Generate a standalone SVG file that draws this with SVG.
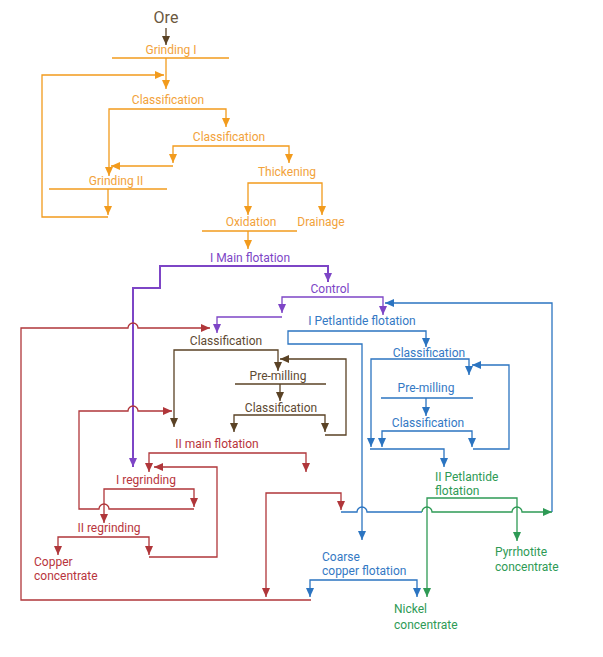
<svg xmlns="http://www.w3.org/2000/svg" width="603" height="657" viewBox="0 0 603 657">
<defs>
<style>
text{font-family:Roboto,"Open Sans","Liberation Sans",sans-serif;font-size:12px;text-anchor:middle}
.s{text-anchor:start}
.ln{fill:none;stroke-width:1.3}
.o{stroke:#F29B1D}.ot{fill:#F2A23A}
.b{stroke:#5A4225}.bt{fill:#5E4A32}
.p{stroke:#7D45C6;stroke-width:2}.pt{fill:#7D45C6}
.u{stroke:#2B74C1}.ut{fill:#3479C4}
.r{stroke:#B0363A}.rt{fill:#B8343C}
.g{stroke:#2E9A55}.gt{fill:#2E9A55}
</style>
<marker id="ao" markerWidth="9" markerHeight="8" refX="9" refY="4" orient="auto" markerUnits="userSpaceOnUse"><path d="M0,0L9,4L0,8z" fill="#F29B1D"/></marker>
<marker id="ab" markerWidth="9" markerHeight="8" refX="9" refY="4" orient="auto" markerUnits="userSpaceOnUse"><path d="M0,0L9,4L0,8z" fill="#5A4225"/></marker>
<marker id="ap" markerWidth="9" markerHeight="8" refX="9" refY="4" orient="auto" markerUnits="userSpaceOnUse"><path d="M0,0L9,4L0,8z" fill="#7D45C6"/></marker>
<marker id="au" markerWidth="9" markerHeight="8" refX="9" refY="4" orient="auto" markerUnits="userSpaceOnUse"><path d="M0,0L9,4L0,8z" fill="#2B74C1"/></marker>
<marker id="ar" markerWidth="9" markerHeight="8" refX="9" refY="4" orient="auto" markerUnits="userSpaceOnUse"><path d="M0,0L9,4L0,8z" fill="#B0363A"/></marker>
<marker id="ag" markerWidth="9" markerHeight="8" refX="9" refY="4" orient="auto" markerUnits="userSpaceOnUse"><path d="M0,0L9,4L0,8z" fill="#2E9A55"/></marker>
</defs>
<rect width="603" height="657" fill="#fff"/>

<g id="connectors">
<!-- orange -->
<path class="ln b" d="M166,28V45" marker-end="url(#ab)"/>
<path class="ln o" d="M166,58V89" marker-end="url(#ao)"/>
<path class="ln o" d="M108,189V215" marker-end="url(#ao)"/>
<path class="ln o" d="M108,217H42V75H164" marker-end="url(#ao)"/>
<path class="ln o" d="M167,109H226V127" marker-end="url(#ao)"/>
<path class="ln o" d="M167,109H109V176" marker-end="url(#ao)"/>
<path class="ln o" d="M231,146H173V163" marker-end="url(#ao)"/>
<path class="ln o" d="M231,146H289V163" marker-end="url(#ao)"/>
<path class="ln o" d="M173,166H111" marker-end="url(#ao)"/>
<path class="ln o" d="M285,183H248V215" marker-end="url(#ao)"/>
<path class="ln o" d="M285,183H322V215" marker-end="url(#ao)"/>
<path class="ln o" d="M248,231V249" marker-end="url(#ao)"/>
<!-- purple -->
<path class="ln p" d="M250,266H328V282" marker-end="url(#ap)"/>
<path class="ln p" d="M250,266H160V288H133V467" marker-end="url(#ap)"/>
<path class="ln p" style="stroke-width:1.3" d="M330,297H383V315" marker-end="url(#ap)"/>
<path class="ln p" style="stroke-width:1.3" d="M330,297H282V313" marker-end="url(#ap)"/>
<path class="ln p" style="stroke-width:1.3" d="M282,317H217V333" marker-end="url(#ap)"/>
<!-- blue -->
<path class="ln u" d="M357,331H426V347" marker-end="url(#au)"/>
<path class="ln u" d="M357,331H288V344H362V540" marker-end="url(#au)"/>
<path class="ln u" d="M552,512V303H385" marker-end="url(#au)"/>
<path class="ln u" d="M420,359H469V375" marker-end="url(#au)"/>
<path class="ln u" d="M420,359H371V447" marker-end="url(#au)"/>
<path class="ln u" d="M473,449H509V365H472" marker-end="url(#au)"/>
<path class="ln u" d="M426,398V416" marker-end="url(#au)"/>
<path class="ln u" d="M427,431H382V447" marker-end="url(#au)"/>
<path class="ln u" d="M427,431H472V447" marker-end="url(#au)"/>
<path class="ln u" d="M370,449H444V467" marker-end="url(#au)"/>
<path class="ln u" d="M341,512H357A5,5 0 0 1 367,512H422"/>
<path class="ln u" d="M363,580H310V597" marker-end="url(#au)"/>
<path class="ln u" d="M363,580H417V597" marker-end="url(#au)"/>
<!-- green -->
<path class="ln g" d="M472,498H427V597" marker-end="url(#ag)"/>
<path class="ln g" d="M472,498H517V541" marker-end="url(#ag)"/>
<path class="ln g" d="M422,512A5,5 0 0 1 432,512H512A5,5 0 0 1 522,512H552" marker-end="url(#ag)"/>
<!-- brown -->
<path class="ln b" d="M226,350H278V371" marker-end="url(#ab)"/>
<path class="ln b" d="M226,350H174V427" marker-end="url(#ab)"/>
<path class="ln b" d="M325,435H346V359H280" marker-end="url(#ab)"/>
<path class="ln b" d="M280,384V401" marker-end="url(#ab)"/>
<path class="ln b" d="M280,415H234V432" marker-end="url(#ab)"/>
<path class="ln b" d="M280,415H325V432" marker-end="url(#ab)"/>
<!-- red -->
<path class="ln r" d="M311,600H21V328H128A5,5 0 0 1 138,328H210" marker-end="url(#ar)"/>
<path class="ln r" d="M194,509H109A5,5 0 0 0 99,509H79V411H128A5,5 0 0 1 138,411H172" marker-end="url(#ar)"/>
<path class="ln r" d="M227,453H149V472" marker-end="url(#ar)"/>
<path class="ln r" d="M227,453H306V472" marker-end="url(#ar)"/>
<path class="ln r" d="M149,557H217V467H154" marker-end="url(#ar)"/>
<path class="ln r" d="M150,489H104V523" marker-end="url(#ar)"/>
<path class="ln r" d="M150,489H194V507" marker-end="url(#ar)"/>
<path class="ln r" d="M104,537H58V555" marker-end="url(#ar)"/>
<path class="ln r" d="M104,537H149V555" marker-end="url(#ar)"/>
<path class="ln r" d="M303,493H341V510" marker-end="url(#ar)"/>
<path class="ln r" d="M303,493H266V597" marker-end="url(#ar)"/>
</g>

<g id="ore"><text x="166" y="23" style="font-size:16px" fill="#6B5840">Ore</text></g>
<g id="grinding1"><text class="ot" x="171" y="54">Grinding I</text><path class="ln o" d="M112,58H229"/></g>
<g id="classification1"><text class="ot" x="168" y="104">Classification</text></g>
<g id="classification2"><text class="ot" x="229" y="141">Classification</text></g>
<g id="grinding2"><text class="ot" x="116" y="185">Grinding II</text><path class="ln o" d="M49,189H167"/></g>
<g id="thickening"><text class="ot" x="287" y="176">Thickening</text></g>
<g id="oxidation"><text class="ot" x="251" y="226">Oxidation</text><path class="ln o" d="M202,231H297"/></g>
<g id="drainage"><text class="ot" x="321" y="226">Drainage</text></g>
<g id="main-flotation1"><text class="pt" x="250" y="262">I Main flotation</text></g>
<g id="control"><text class="pt" x="330" y="293">Control</text></g>
<g id="petlantide1"><text class="ut" x="362" y="325">I Petlantide flotation</text></g>
<g id="classification-b1"><text class="ut" x="429" y="357">Classification</text></g>
<g id="premilling-b"><text class="ut" x="426" y="392">Pre-milling</text><path class="ln u" d="M381,398H473"/></g>
<g id="classification-b2"><text class="ut" x="428" y="427">Classification</text></g>
<g id="classification-c1"><text class="bt" x="226" y="345">Classification</text></g>
<g id="premilling-c"><text class="bt" x="278" y="380">Pre-milling</text><path class="ln b" d="M235,384H326"/></g>
<g id="classification-c2"><text class="bt" x="281" y="412">Classification</text></g>
<g id="main-flotation2"><text class="rt" x="217" y="448">II main flotation</text></g>
<g id="regrinding1"><text class="rt" x="146" y="484">I regrinding</text></g>
<g id="regrinding2"><text class="rt" x="109" y="532">II regrinding</text></g>
<g id="copper"><text class="rt s" x="34" y="566">Copper</text><text class="rt s" x="34" y="580">concentrate</text></g>
<g id="petlantide2"><text class="gt s" x="435" y="481">II Petlantide</text><text class="gt s" x="435" y="495">flotation</text></g>
<g id="pyrrhotite"><text class="gt s" x="495" y="556">Pyrrhotite</text><text class="gt s" x="495" y="571">concentrate</text></g>
<g id="coarse"><text class="ut s" x="322" y="561">Coarse</text><text class="ut s" x="322" y="575">copper flotation</text></g>
<g id="nickel"><text class="gt s" x="394" y="613">Nickel</text><text class="gt s" x="394" y="629">concentrate</text></g>
</svg>
